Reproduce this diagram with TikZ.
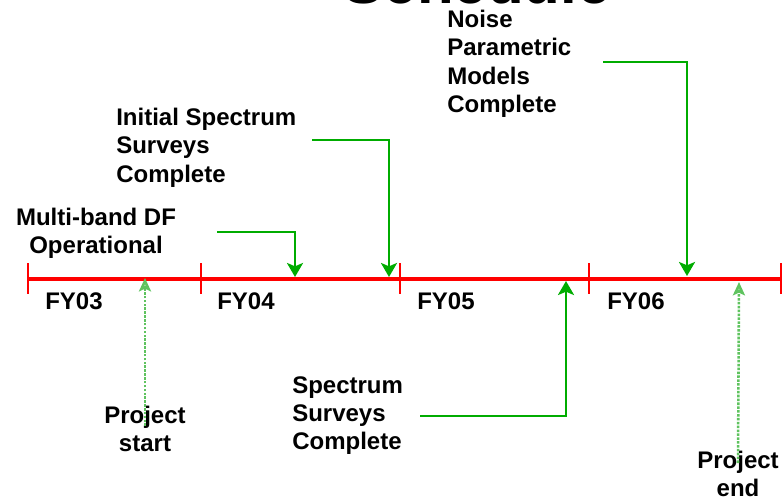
\documentclass[tikz,border=0pt]{standalone}
\usepackage{fontspec}
\setmainfont{Liberation Sans}
\usetikzlibrary{arrows.meta}
\definecolor{lineRed}{RGB}{255,0,0}
\definecolor{markGreen}{RGB}{0,172,0}
\definecolor{markGreenLight}{RGB}{95,195,95}
\definecolor{inkBlack}{RGB}{0,0,0}
\tikzset{
  milestone text/.style={inner sep=0pt,anchor=north west,align=left,text=inkBlack,font=\bfseries\fontsize{18}{21.2}\selectfont},
  milestone text centre/.style={milestone text,anchor=north,align=center},
  year label/.style={inner sep=0pt,anchor=north west,text=inkBlack,font=\bfseries\fontsize{18}{21.2}\selectfont},
  title text/.style={inner sep=0pt,anchor=base,text=inkBlack,font=\bfseries\fontsize{45}{50}\selectfont},
  timeline bar/.style={draw=lineRed,line width=3.4pt},
  timeline tick/.style={draw=lineRed,line width=2.2pt},
  milestone arrow/.style={-{Stealth[length=10.5pt,width=12pt,inset=2.5pt,fill=markGreen]},line width=2.2pt,draw=markGreen},
  project arrow/.style={-{Stealth[length=10pt,width=9pt,inset=2pt,fill=markGreenLight!45]},line width=1.9pt,densely dotted,draw=markGreenLight}
}
\begin{document}
\begin{tikzpicture}[x=0.75pt,y=-0.75pt]
        \useasboundingbox (0,0) rectangle (782,497);
        \node[title text] (title) at (477,3) {Schedule};
        % timeline
        \coordinate (tl start) at (28,279);
        \coordinate (tl end) at (782,279);
        \draw[timeline bar] (tl start) -- (tl end);
        \foreach \tx in {28,201,400,589,781}
          \draw[timeline tick] (\tx,263) -- (\tx,294);
        \node[year label] (fy03) at (45,292) {FY03};
        \node[year label] (fy04) at (217,292) {FY04};
        \node[year label] (fy05) at (417,292) {FY05};
        \node[year label] (fy06) at (607,292) {FY06};
        % milestones above
        \node[milestone text centre] (dfop) at (96,208) {Multi-band DF\\Operational};
        \node[milestone text] (initsurv) at (116,108) {Initial Spectrum\\Surveys\\Complete};
        \node[milestone text] (noisemod) at (447,10) {Noise\\Parametric\\Models\\Complete};
        \coordinate (dfop from) at (217,232);
        \coordinate (dfop to) at (295,277);
        \coordinate (initsurv from) at (312,140);
        \coordinate (initsurv to) at (389,277);
        \coordinate (noisemod from) at (603,62);
        \coordinate (noisemod to) at (687,276);
        \draw[milestone arrow] (dfop from) -| (dfop to);
        \draw[milestone arrow] (initsurv from) -| (initsurv to);
        \draw[milestone arrow] (noisemod from) -| (noisemod to);
        % milestone below
        \node[milestone text] (survdone) at (292,376) {Spectrum\\Surveys\\Complete};
        \coordinate (survdone from) at (420,416);
        \coordinate (survdone to) at (566,281);
        \draw[milestone arrow] (survdone from) -| (survdone to);
        % project start and end
        \node[milestone text centre] (projstart) at (145,406) {Project\\start};
        \node[milestone text centre] (projend) at (738,451) {Project\\end};
        \coordinate (projstart to) at (145,278);
        \coordinate (projend to) at (739,282);
        \draw[project arrow] ([yshift=-15pt]projstart.north) -- (projstart to);
        \draw[project arrow] ([yshift=-9pt]projend.north) -- (projend to);
      \end{tikzpicture}
\end{document}
